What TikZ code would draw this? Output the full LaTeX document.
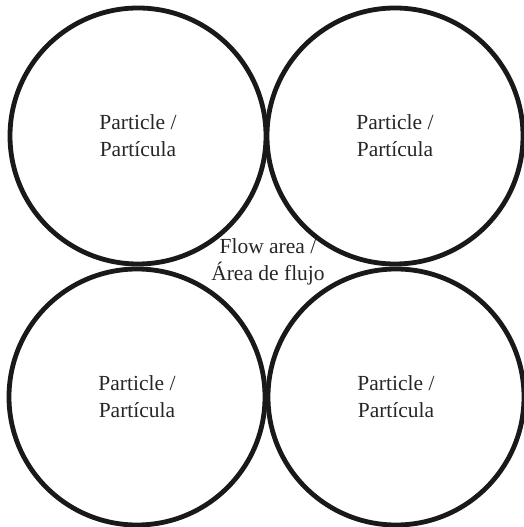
\documentclass[tikz,border=0pt]{standalone}
\usepackage{fontspec}
\setmainfont{Liberation Serif}
\begin{document}
\begin{tikzpicture}[x=1pt,y=1pt,
  particle/.style={circle,draw=black!90,line width=4.8pt,minimum size=256pt,inner sep=0pt,align=center,font=\fontsize{21.5}{27}\selectfont,text=black!85},
  lbl/.style={align=center,font=\fontsize{21.5}{27}\selectfont,text=black!85}]
\useasboundingbox (0,0) rectangle (524,527);
\node[particle] (tl) at (138,391) {Particle /\\Partícula};
\node[particle] (tr) at (395,391) {Particle /\\Partícula};
\node[particle] (bl) at (137,130) {Particle /\\Partícula};
\node[particle] (br) at (396,130) {Particle /\\Partícula};
\node[lbl,inner sep=0pt] (flow) at (268,265) {Flow area /\\Área de flujo};
\end{tikzpicture}
\end{document}
